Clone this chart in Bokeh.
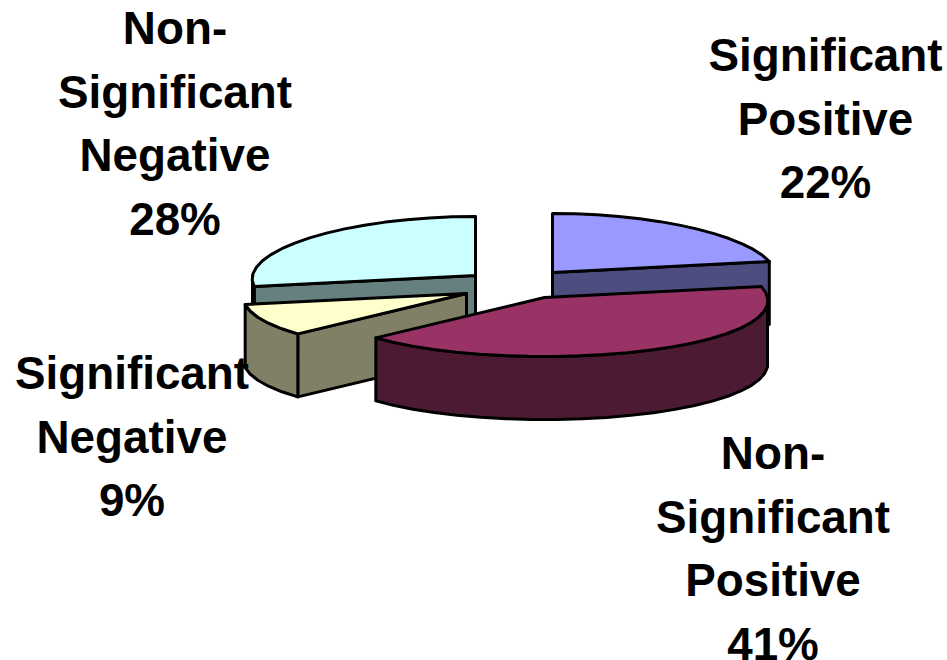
import numpy as np
from bokeh.core.properties import value
from bokeh.embed import file_html
from bokeh.models import ColumnDataSource
from bokeh.plotting import figure
from bokeh.resources import INLINE

# Share of each result class, clockwise from twelve o'clock
categories = [
    "Significant Positive",
    "Non-Significant Positive",
    "Significant Negative",
    "Non-Significant Negative",
]
shares = [22, 41, 9, 28]
top_colors = ["#9999FF", "#993366", "#FFFFCC", "#CCFFFF"]
wall_colors = ["#4D4D80", "#4D1A33", "#808066", "#668080"]

label_lines = [
    ["Significant", "Positive"],
    ["Non-", "Significant", "Positive"],
    ["Significant", "Negative"],
    ["Non-", "Significant", "Negative"],
]

# Exploded wedge hubs and label anchors (page pixels)
hubs = [(552, 272), (544, 297), (466, 293), (475, 275)]
label_x = [825, 772.5, 131.5, 174.5]
label_first_y = [55, 453, 373, 28]
line_step = 63.5

RX, RY, DEPTH = 223, 59, 63
PERSPECTIVE = 0.055
ARC_STEP = 6.0


def rim(hub, a0, a1):
    """Points along a wedge's outer edge between two clockwise angles in degrees."""
    n = max(int(abs(a1 - a0) / ARC_STEP), 1)
    a = np.radians(np.linspace(a0, a1, n + 1))
    # Nearer parts of the disc are drawn a little wider
    return hub[0] + RX * (1 - PERSPECTIVE * np.cos(a)) * np.sin(a), hub[1] - RY * np.cos(a)


p = figure(
    width=947, height=660, x_range=(0, 947), y_range=(660, 0),
    output_backend="svg", toolbar_location=None, min_border=0,
    outline_line_color=None, background_fill_color="white", border_fill_color="white",
)
p.axis.visible = False
p.grid.visible = False

style = dict(line_color="black", line_width=3, line_join="round")


def radial_wall(hub, angle, color):
    x, y = rim(hub, angle, angle)
    ex, ey = x[0], y[0]
    p.patch([hub[0], ex, ex, hub[0]], [hub[1], ey, ey + DEPTH, hub[1] + DEPTH],
            fill_color=color, **style)


def outer_wall(hub, a0, a1, color):
    lo, hi = max(a0, 90), min(a1, 270)
    if hi <= lo:
        return
    x, y = rim(hub, lo, hi)
    p.patch(np.r_[x, x[::-1]], np.r_[y, y[::-1] + DEPTH], fill_color=color, **style)


edges = np.cumsum([0] + shares) * 3.6
spans = list(zip(edges[:-1], edges[1:]))

# Painted back to front so nearer wedges cover the ones behind them
for i in [3, 0, 2, 1]:
    a0, a1 = spans[i]
    hub = hubs[i]
    # A cut face shows only while it turns toward the viewer
    if a1 < 90:
        radial_wall(hub, a1, wall_colors[i])
    if a0 > 180:
        radial_wall(hub, a0, wall_colors[i])
    outer_wall(hub, a0, a1, wall_colors[i])
    x, y = rim(hub, a0, a1)
    p.patch(np.r_[hub[0], x], np.r_[hub[1], y], fill_color=top_colors[i], **style)

# Each label ends with the wedge's percentage
xs, ys, texts = [], [], []
for lines, share, lx, ly in zip(label_lines, shares, label_x, label_first_y):
    for k, line in enumerate(lines + [f"{share}%"]):
        xs.append(lx)
        ys.append(ly + k * line_step)
        texts.append(line)

p.text(
    x="x", y="y", text="text", source=ColumnDataSource(dict(x=xs, y=ys, text=texts)),
    text_font=value("Liberation Sans"), text_font_style="bold", text_font_size="45.8px",
    text_color="black", text_align="center", text_baseline="middle",
)

open("out.html", "w").write(file_html(p, INLINE))
